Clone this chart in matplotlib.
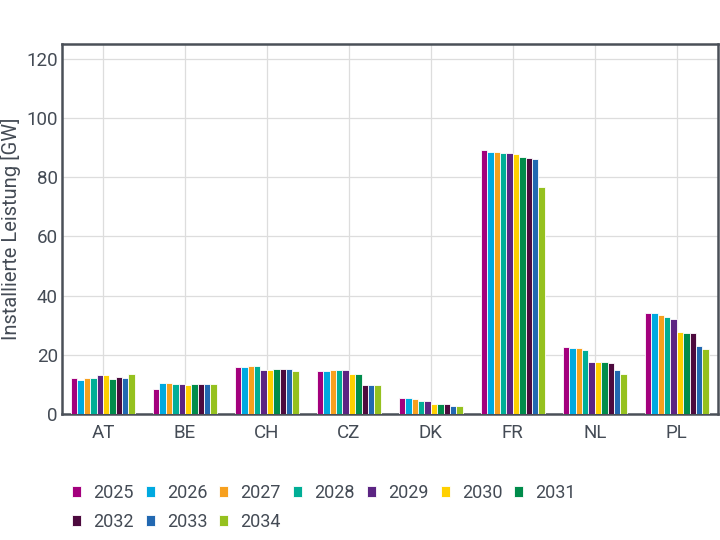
import matplotlib
matplotlib.use('Agg')
import matplotlib.pyplot as plt
import numpy as np

plt.rcParams['font.family'] = ['Roboto', 'DejaVu Sans']

countries = ['AT', 'BE', 'CH', 'CZ', 'DK', 'FR', 'NL', 'PL']
years = ['2025', '2026', '2027', '2028', '2029', '2030', '2031', '2032', '2033', '2034']
colors = ['#A3007D', '#00A9E0', '#F7A01E', '#00AE96', '#5C2483', '#FFD000',
          '#008C4B', '#4D0A3E', '#2268B1', '#95C11F']

# Installierte Leistung [GW], Zeile je Jahr, Spalte je Land
v2025 = [12.1, 8.5, 15.8, 14.5, 5.4, 89.3, 22.6, 34.3]
v2026 = [11.5, 10.6, 16.0, 14.5, 5.3, 88.5, 22.5, 34.3]
v2027 = [12.2, 10.6, 16.1, 14.8, 5.1, 88.4, 22.5, 33.4]
v2028 = [12.2, 10.2, 16.4, 14.8, 4.6, 88.1, 21.8, 32.8]
v2029 = [13.2, 10.2, 14.8, 15.0, 4.4, 88.0, 17.5, 32.2]
v2030 = [13.1, 10.0, 14.9, 13.7, 3.4, 87.9, 17.5, 27.7]
v2031 = [11.8, 10.1, 15.1, 13.6, 3.4, 86.7, 17.5, 27.4]
v2032 = [12.7, 10.1, 15.3, 9.7, 3.4, 86.3, 17.2, 27.4]
v2033 = [12.3, 10.1, 15.4, 9.7, 2.9, 86.0, 14.8, 23.1]
v2034 = [13.7, 10.1, 14.5, 9.7, 2.8, 76.7, 13.7, 21.9]
values = [v2025, v2026, v2027, v2028, v2029, v2030, v2031, v2032, v2033, v2034]

fig = plt.figure(figsize=(7.2, 5.4), dpi=100)
ax = fig.add_axes([0.086, 0.233, 0.911, 0.686])

x = np.arange(len(countries))
group = 0.78
bw = group / len(years)
handles = []
for i, (yr, vals) in enumerate(zip(years, values)):
    pos = x - group / 2 + bw * (i + 0.5)
    b = ax.bar(pos, vals, width=bw, color=colors[i], edgecolor='white',
               linewidth=0.6, label=yr, zorder=3)
    handles.append(b)

txt = '#444b55'
ax.set_xlim(-0.5, len(countries) - 0.5)
ax.set_ylim(0, 125)
ax.set_yticks(np.arange(0, 121, 20))
ax.set_xticks(x)
ax.set_xticklabels(countries)
ax.tick_params(axis='both', colors=txt, labelsize=13.5, length=0)
ax.tick_params(axis='x', pad=7)
ax.tick_params(axis='y', pad=3)
ax.set_ylabel('Installierte Leistung [GW]', color=txt, fontsize=14.5)
ax.yaxis.set_label_coords(-0.062, 0.5)
ax.grid(True, color='#dddddd', linewidth=0.9, zorder=0)
for s in ax.spines.values():
    s.set_color('#4a5058')
    s.set_linewidth(1.8)

# legend laid out row by row (matplotlib fills columns first)
order = [0, 7, 1, 8, 2, 9, 3, 4, 5, 6]
leg = fig.legend([handles[k] for k in order], [years[k] for k in order],
                 loc='lower left', bbox_to_anchor=(0.1, 0.017), ncol=7,
                 frameon=False, fontsize=13, handlelength=0.5, handleheight=0.5,
                 handletextpad=0.67, columnspacing=0.67, labelspacing=0.6,
                 borderpad=0, borderaxespad=0)
for t in leg.get_texts():
    t.set_color(txt)

fig.savefig('out.png', dpi=100)
